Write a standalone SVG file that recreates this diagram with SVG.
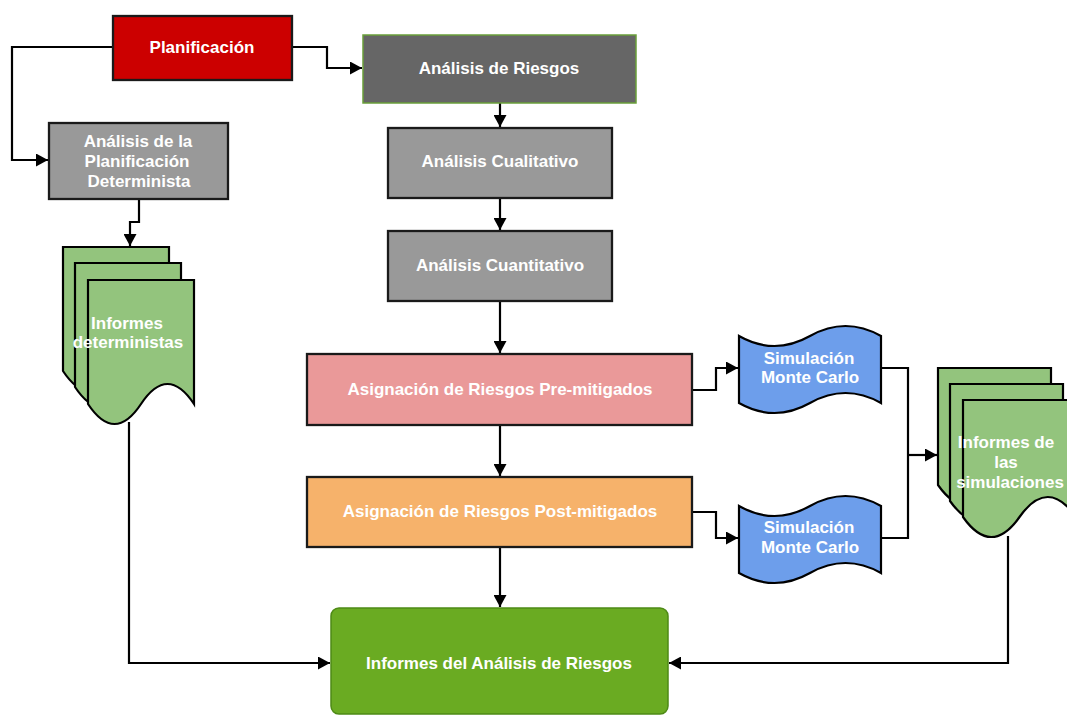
<svg xmlns="http://www.w3.org/2000/svg" width="1067" height="716" viewBox="0 0 1067 716">
  <defs>
    <marker id="arrow" viewBox="0 0 12 13" refX="12" refY="6.5" markerWidth="12" markerHeight="13" markerUnits="userSpaceOnUse" orient="auto">
      <path d="M0,0 L12,6.5 L0,13 Z" fill="#000"/>
    </marker>
    <!-- stacked document page, 106 wide -->
    <path id="pageA" d="M0,0 H106 V124 Q79.5,84 53,124 Q26.5,164 0,124 Z"/>
    <!-- stacked document page, 113 wide -->
    <path id="pageB" d="M0,0 H113 V117 Q84.75,77 56.5,117 Q28.25,157 0,117 Z"/>
    <!-- punched tape shape -->
    <path id="tape" d="M0,0 Q35.5,20 71,0 Q106.5,-20 142,0 V67 Q106.5,47 71,67 Q35.5,87 0,67 Z"/>
  </defs>
  <style>
    text { font-family: "Liberation Sans", Arial, Helvetica, sans-serif; font-weight: bold; font-size: 17px; fill: #fff; text-anchor: middle; dominant-baseline: central; }
    .box { stroke: #1a1a1a; stroke-width: 2.3; }
    .doc { fill: #93c47d; stroke: #000; stroke-width: 2.2; }
    .sim { fill: #6d9eeb; stroke: #000; stroke-width: 2.2; }
    .wire { fill: none; stroke: #000; stroke-width: 2.2; }
  </style>

  <rect width="1067" height="716" fill="#fff"/>

  <g id="connectors">
    <path class="wire" d="M292,47 H327 V68 H362" marker-end="url(#arrow)"/>
    <path class="wire" d="M113,47 H12 V160 H48" marker-end="url(#arrow)"/>
    <path class="wire" d="M500,103 V127" marker-end="url(#arrow)"/>
    <path class="wire" d="M500,198 V230" marker-end="url(#arrow)"/>
    <path class="wire" d="M500,301 V353" marker-end="url(#arrow)"/>
    <path class="wire" d="M500,425 V476" marker-end="url(#arrow)"/>
    <path class="wire" d="M500,547 V607" marker-end="url(#arrow)"/>
    <path class="wire" d="M139,199 V222 H130 V246" marker-end="url(#arrow)"/>
    <path class="wire" d="M129,422 V663 H330" marker-end="url(#arrow)"/>
    <path class="wire" d="M692,390 H716 V368 H738" marker-end="url(#arrow)"/>
    <path class="wire" d="M692,512 H716 V538 H738" marker-end="url(#arrow)"/>
    <path class="wire" d="M881,368 H908 V538 H881"/>
    <path class="wire" d="M908,455 H937" marker-end="url(#arrow)"/>
    <path class="wire" d="M1008,536 V663 H669" marker-end="url(#arrow)"/>
  </g>

  <g id="planificacion">
    <rect class="box" x="113" y="16" width="179" height="64" fill="#cc0000"/>
    <text x="202" y="47">Planificación</text>
  </g>

  <g id="analisis-riesgos">
    <rect x="363" y="35" width="273" height="68" fill="#666666" stroke="#6a9f3a" stroke-width="1.5"/>
    <text x="499" y="68">Análisis de Riesgos</text>
  </g>

  <g id="analisis-determinista">
    <rect class="box" x="49" y="123" width="179" height="76" fill="#999999"/>
    <text x="138" y="141">Análisis de la</text>
    <text x="137" y="161">Planificación</text>
    <text x="139" y="181">Determinista</text>
  </g>

  <g id="analisis-cualitativo">
    <rect class="box" x="388" y="128" width="224" height="70" fill="#999999"/>
    <text x="500" y="161">Análisis Cualitativo</text>
  </g>

  <g id="analisis-cuantitativo">
    <rect class="box" x="388" y="231" width="224" height="70" fill="#999999"/>
    <text x="500" y="265">Análisis Cuantitativo</text>
  </g>

  <g id="pre-mitigados">
    <rect class="box" x="307" y="354" width="385" height="71" fill="#ea9999"/>
    <text x="500" y="389">Asignación de Riesgos Pre-mitigados</text>
  </g>

  <g id="post-mitigados">
    <rect class="box" x="307" y="477" width="385" height="70" fill="#f6b26b"/>
    <text x="500" y="511">Asignación de Riesgos Post-mitigados</text>
  </g>

  <g id="informes-deterministas">
    <use href="#pageA" class="doc" x="63" y="247"/>
    <use href="#pageA" class="doc" x="75" y="263"/>
    <use href="#pageA" class="doc" x="88" y="280"/>
    <text x="127" y="323">Informes</text>
    <text x="128" y="342">deterministas</text>
  </g>

  <g id="simulacion-pre">
    <use href="#tape" class="sim" x="739" y="336"/>
    <text x="809" y="358">Simulación</text>
    <text x="810" y="377">Monte Carlo</text>
  </g>

  <g id="simulacion-post">
    <use href="#tape" class="sim" x="739" y="506"/>
    <text x="809" y="527">Simulación</text>
    <text x="810" y="547">Monte Carlo</text>
  </g>

  <g id="informes-simulaciones">
    <use href="#pageB" class="doc" x="938" y="368"/>
    <use href="#pageB" class="doc" x="950" y="384"/>
    <use href="#pageB" class="doc" x="963" y="400"/>
    <text x="1006" y="442">Informes de</text>
    <text x="1006" y="462">las</text>
    <text x="1010" y="482">simulaciones</text>
  </g>

  <g id="informes-analisis">
    <rect x="331" y="608" width="337" height="106" rx="8" fill="#6aab22" stroke="#4e8a16" stroke-width="1.5"/>
    <text x="499" y="663">Informes del Análisis de Riesgos</text>
  </g>
</svg>
